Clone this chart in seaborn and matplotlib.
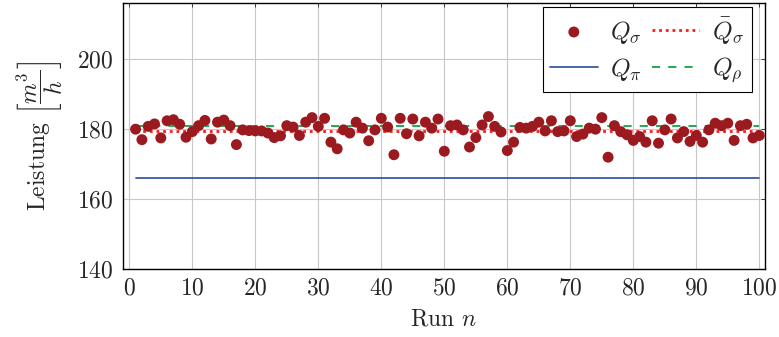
import numpy as np
import pandas as pd
import matplotlib
matplotlib.use("Agg")
import matplotlib.pyplot as plt
import seaborn as sns

# Data
runs = list(range(1, 101))
q_sigma = [
    180.0, 177.0, 180.8, 181.5, 177.5, 182.4, 182.7, 181.4, 177.7, 179.3,
    181.0, 182.5, 177.2, 182.0, 182.6, 181.0, 175.6, 179.8, 179.6, 179.5,
    179.5, 178.9, 177.6, 178.1, 181.0, 180.6, 178.2, 182.0, 183.3, 180.8,
    183.1, 176.3, 174.4, 179.8, 178.9, 182.0, 180.3, 176.7, 179.8, 183.1,
    180.6, 172.7, 183.1, 178.7, 182.9, 178.1, 182.0, 180.3, 182.9, 173.7,
    181.0, 181.2, 179.8, 174.9, 177.6, 181.2, 183.6, 180.8, 179.2, 173.9,
    176.3, 180.5, 180.3, 180.8, 182.0, 179.5, 182.4, 179.3, 179.5, 182.4,
    177.9, 178.6, 180.3, 180.0, 183.3, 172.0, 181.0, 179.3, 178.4, 176.8,
    177.9, 176.3, 182.4, 176.0, 179.8, 182.9, 177.5, 179.3, 176.5, 178.2,
    176.3, 179.8, 181.7, 181.0, 181.7, 176.8, 181.0, 181.4, 177.5, 178.2,
]
q_sigma_mean = 179.4
q_pi = 166.0
q_rho = 181.0

df = pd.DataFrame({"run": runs, "q": q_sigma})
lines = pd.DataFrame({
    "run": runs,
    "mean": [q_sigma_mean] * len(runs),
    "pi": [q_pi] * len(runs),
    "rho": [q_rho] * len(runs),
})

sns.set_style("whitegrid", {"axes.edgecolor": "black", "grid.color": "#c8c8c8"})
plt.rcParams["font.family"] = ["cmr10", "DejaVu Serif"]
plt.rcParams["mathtext.fontset"] = "cm"
plt.rcParams["axes.formatter.use_mathtext"] = True
plt.rcParams["font.size"] = 17

fig = plt.figure(figsize=(7.79, 3.37), dpi=100)
ax = fig.add_axes([0.1575, 0.2009, 0.8245, 0.790])

sns.lineplot(data=lines, x="run", y="pi", ax=ax, color="#3a5aa8", lw=1.3,
             label=r"$Q_\pi$")
sns.lineplot(data=lines, x="run", y="rho", ax=ax, color="#12a04a", lw=1.3,
             dashes=False, label=r"$Q_\rho$")
ax.lines[-1].set_linestyle((0, (4.5, 4.5)))
sns.lineplot(data=lines, x="run", y="mean", ax=ax, color="#ff1a1a", lw=2.0,
             label=r"$\bar{Q}_\sigma$")
ax.lines[-1].set_linestyle((0, (1, 1.4)))
sns.scatterplot(data=df, x="run", y="q", ax=ax, color="#9a1a1f", s=62,
                edgecolor="none", label=r"$Q_\sigma$", zorder=3)

ax.set_xlim(-1.05, 100.9)
ax.set_ylim(140, 216)
ax.set_xticks(range(0, 101, 10))
ax.set_yticks([140, 160, 180, 200])
ax.tick_params(direction="in", top=True, right=True, length=3, width=0.6,
               labelsize=17)
ax.tick_params(axis="y", pad=7)
ax.tick_params(axis="x", pad=6)
for s in ax.spines.values():
    s.set_linewidth(1.0)
ax.grid(True, lw=0.8)

ax.set_xlabel(r"Run $n$", fontsize=17, labelpad=6)
ax.set_ylabel(r"Leistung $\left[\dfrac{m^3}{h}\right]$", fontsize=17,
              labelpad=8)

h, l = ax.get_legend_handles_labels()
order = [l.index(r"$Q_\sigma$"), l.index(r"$Q_\pi$"),
         l.index(r"$\bar{Q}_\sigma$"), l.index(r"$Q_\rho$")]
leg = ax.legend([h[i] for i in order], [l[i] for i in order], ncol=2,
                loc="upper right", fontsize=18, frameon=True, fancybox=False,
                edgecolor="black", framealpha=1, handlelength=1.9,
                columnspacing=0.4, handletextpad=0.5, borderpad=0.3,
                labelspacing=0.4, borderaxespad=0,
                bbox_to_anchor=(0.98, 0.985))
leg.get_frame().set_linewidth(0.8)

fig.savefig("out.png", dpi=100)
